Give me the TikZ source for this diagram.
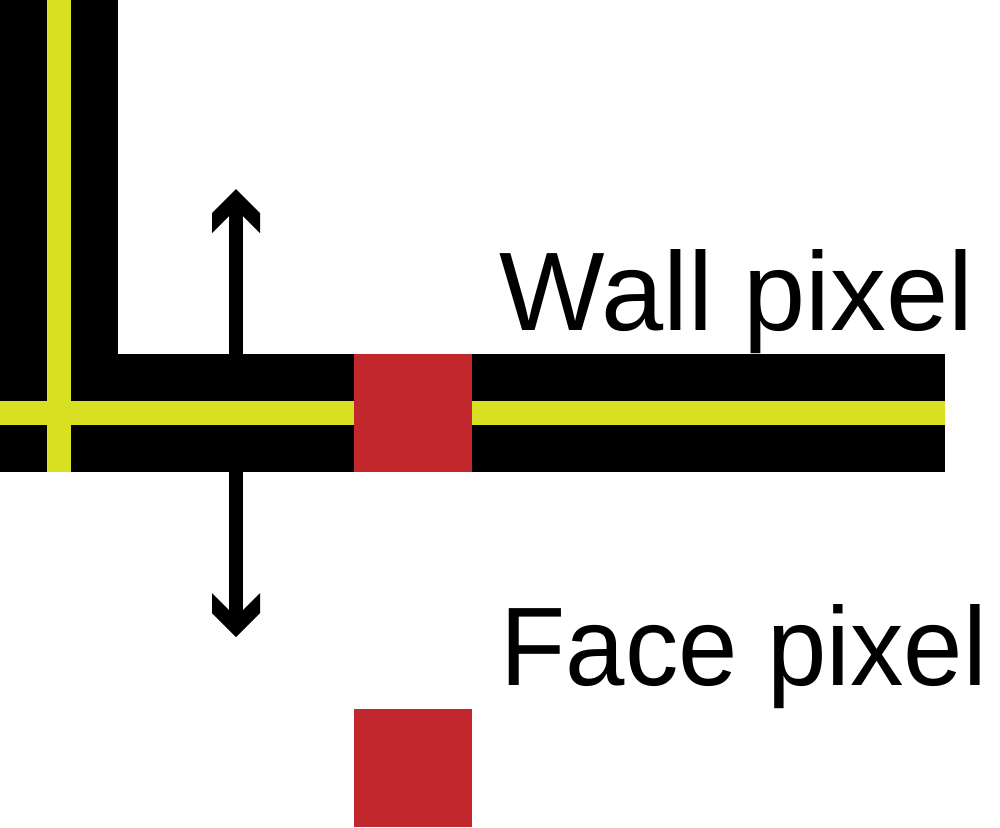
\documentclass[tikz,border=0pt]{standalone}
\usepackage{fontspec}
\setmainfont{Liberation Sans}
\definecolor{wallyellow}{HTML}{D9E021}
\definecolor{pixred}{HTML}{C1272D}
\tikzset{
  band/.style={fill=black, draw=none},
  centreline/.style={fill=wallyellow, draw=none},
  pixel/.style={fill=pixred, draw=none, minimum width=11.8mm, minimum height=11.8mm, inner sep=0pt, outer sep=0pt},
  shaft/.style={line width=1.4mm, black},
  head/.style={fill=black, draw=none},
  label/.style={font=\fontsize{31.8pt}{38pt}\selectfont, inner sep=0pt, anchor=base west}
}
\begin{document}
\begin{tikzpicture}[x=0.1mm, y=-0.1mm]
\useasboundingbox (0,0) rectangle (1000,827);
% vertical wall band
\fill[band] (0,0) rectangle (118,355);
% arrow (behind horizontal band)
\coordinate (atop) at (236,189);
\coordinate (abot) at (236,637);
\draw[shaft] ([yshift=-2.6mm]atop) -- ([yshift=2.6mm]abot);
\fill[head] (atop) -- ++(24,24) -- ++(0,20) -- ++(-17,-17) -- ++(-14,0) -- ++(-17,17) -- ++(0,-20) -- cycle;
\fill[head] (abot) -- ++(24,-24) -- ++(0,-20) -- ++(-17,17) -- ++(-14,0) -- ++(-17,-17) -- ++(0,20) -- cycle;
% horizontal wall band
\fill[band] (0,354) rectangle (945,472);
% yellow centre lines
\fill[centreline] (47,0) rectangle (71,472);
\fill[centreline] (0,401) rectangle (945,425);
% pixels
\node[pixel] (wallpix) at (413,413) {};
\node[pixel] (facepix) at (413,768) {};
% labels
\node[label] (walllabel) at (499,330) {Wall pixel};
\node[label] (facelabel) at (500,685) {\scalebox{0.955}[1]{Face pixel}};
\end{tikzpicture}
\end{document}
